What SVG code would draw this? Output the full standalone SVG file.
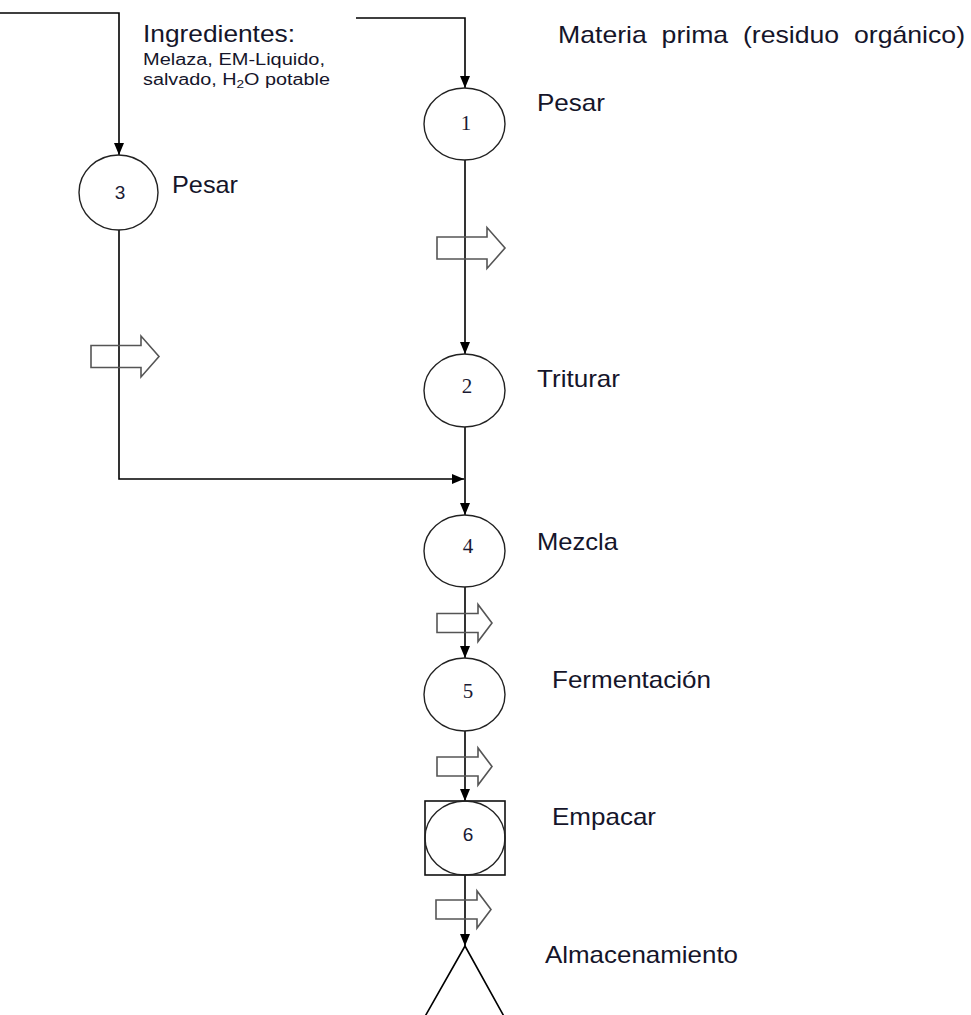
<svg xmlns="http://www.w3.org/2000/svg" width="971" height="1015" viewBox="0 0 971 1015">
<style>
.conn{fill:none;stroke:#000;stroke-width:1.6}
.node{fill:none;stroke:#222;stroke-width:1.4}
.box{fill:none;stroke:#111;stroke-width:1.6}
.hollow{fill:none;stroke:#555;stroke-width:1.6;stroke-linejoin:miter}
.lbl{font-family:"Liberation Sans",Arial,sans-serif;font-size:24px;fill:#15152a}
.sm{font-family:"Liberation Sans",Arial,sans-serif;font-size:16px;fill:#15152a}
.numS{font-family:"Liberation Serif","Times New Roman",serif;font-size:21px;fill:#1a1a33;text-anchor:middle}
.numA{font-family:"Liberation Sans",Arial,sans-serif;font-size:19px;fill:#1a1a33;text-anchor:middle}
</style>
<defs>
<marker id="ah" markerUnits="userSpaceOnUse" markerWidth="12" markerHeight="12" refX="12" refY="6" orient="auto">
<path d="M0,1 L12,6 L0,11 Z" fill="#000"/>
</marker>
<path id="hbig" d="M0,-11 H50 V-20.5 L68,0 L50,20.5 V11 H0 Z"/>
<path id="hsmall" d="M0,-9.5 H41 V-18.5 L55,0 L41,18.5 V9.5 H0 Z"/>
</defs>
<rect width="971" height="1015" fill="#fff"/>

<g id="connectors">
<path class="conn" d="M0,13 H119 V155" marker-end="url(#ah)"/>
<path class="conn" d="M356,18 H465 V88" marker-end="url(#ah)"/>
<path class="conn" d="M465,160 V354" marker-end="url(#ah)"/>
<path class="conn" d="M119,230 V479 H464" marker-end="url(#ah)"/>
<path class="conn" d="M465,427 V515" marker-end="url(#ah)"/>
<path class="conn" d="M465,587 V658" marker-end="url(#ah)"/>
<path class="conn" d="M465,731 V801" marker-end="url(#ah)"/>
<path class="conn" d="M465,875 V946" marker-end="url(#ah)"/>
</g>

<g id="transport-arrows">
<use href="#hbig" class="hollow" transform="translate(437,248)"/>
<use href="#hbig" class="hollow" transform="translate(91,356.5)"/>
<use href="#hsmall" class="hollow" transform="translate(437,623)"/>
<use href="#hsmall" class="hollow" transform="translate(437,766.5)"/>
<use href="#hsmall" class="hollow" transform="translate(436,909.5)"/>
</g>

<g id="labels-top">
<text class="lbl" x="558" y="43" xml:space="preserve" textLength="407" lengthAdjust="spacingAndGlyphs">Materia  prima  (residuo  orgánico)</text>
<text class="lbl" x="143" y="42" textLength="152" lengthAdjust="spacingAndGlyphs">Ingredientes:</text>
<text class="sm" x="143" y="65" textLength="182" lengthAdjust="spacingAndGlyphs">Melaza, EM-Liquido,</text>
<text class="sm" x="143" y="85" textLength="187" lengthAdjust="spacingAndGlyphs">salvado, H<tspan font-size="11" dy="3">2</tspan><tspan dy="-3">O potable</tspan></text>
</g>

<g id="node1">
<ellipse class="node" cx="464.5" cy="124" rx="40.5" ry="36"/>
<text class="numS" x="466" y="130">1</text>
<text class="lbl" x="537" y="111" textLength="68" lengthAdjust="spacingAndGlyphs">Pesar</text>
</g>

<g id="node3">
<ellipse class="node" cx="118.5" cy="192.5" rx="39.5" ry="37.5"/>
<text class="numA" x="120" y="199">3</text>
<text class="lbl" x="172" y="193" textLength="66" lengthAdjust="spacingAndGlyphs">Pesar</text>
</g>

<g id="node2">
<ellipse class="node" cx="464.5" cy="390.5" rx="40.5" ry="36.5"/>
<text class="numS" x="467" y="393">2</text>
<text class="lbl" x="537" y="387" textLength="83" lengthAdjust="spacingAndGlyphs">Triturar</text>
</g>

<g id="node4">
<ellipse class="node" cx="464.5" cy="551" rx="40.5" ry="36"/>
<text class="numS" x="468" y="553">4</text>
<text class="lbl" x="537" y="550" textLength="81" lengthAdjust="spacingAndGlyphs">Mezcla</text>
</g>

<g id="node5">
<ellipse class="node" cx="464.5" cy="694.5" rx="40.5" ry="36.5"/>
<text class="numS" x="468" y="698">5</text>
<text class="lbl" x="552" y="688" textLength="159" lengthAdjust="spacingAndGlyphs">Fermentación</text>
</g>

<g id="node6">
<rect class="box" x="425" y="801" width="80" height="74"/>
<ellipse class="node" cx="465" cy="838" rx="40" ry="37"/>
<text class="numA" x="468" y="841">6</text>
<text class="lbl" x="552" y="825" textLength="104" lengthAdjust="spacingAndGlyphs">Empacar</text>
</g>

<g id="node7">
<polyline class="conn" points="423,1020 465,946 506,1020"/>
<text class="lbl" x="545" y="963" textLength="193" lengthAdjust="spacingAndGlyphs">Almacenamiento</text>
</g>
</svg>
